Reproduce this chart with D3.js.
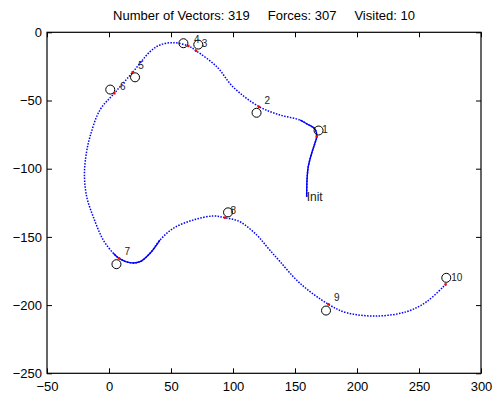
<!DOCTYPE html>
<html>
<head>
<meta charset="utf-8">
<script src="https://cdn.jsdelivr.net/npm/d3@7"></script>
<style>
  body { margin: 0; background: #fff; }
  svg { display: block; font-family: "Liberation Sans", Arial, sans-serif; }
</style>
</head>
<body>
<svg id="chart" width="496" height="397"></svg>
<script>
// title pieces
var titleParts = ['Number of Vectors: 319', 'Forces: 307', 'Visited: 10'];

// traced vehicle path (x, y), starting at Init
var pathX = [159.4, 159.7, 160.7, 163.5, 166.1, 167.5, 166.1, 160.5, 154, 137.9, 121, 100, 86.9, 70.2, 64, 51.9, 41.1, 33.1, 19.1, 4.3, -7.3, -15.3, -18.5, -19.8, -18, -12.7, -4.6, 3.5, 8.1, 16.9, 25, 33.1, 41.1, 51.9, 68, 84.1, 93.5, 105.6, 119.1, 128.2, 138, 154, 176.9, 191.7, 215.9, 240, 256.2, 271.5];
var pathY = [-120.5, -108.3, -98.5, -88.5, -81.2, -76.5, -70.9, -67.6, -64.3, -60.6, -54.5, -40, -25.2, -13.5, -10, -7.6, -9.3, -14.2, -29.3, -44.7, -56.9, -76.5, -90, -104.6, -120.5, -135.2, -152.3, -162, -165.7, -168.9, -168.2, -162, -152.3, -143.7, -137.6, -134.7, -135.9, -138.9, -148.6, -158.1, -168.2, -184, -199.4, -205.6, -208, -204.8, -197.5, -184.8];
// parts of the path where the samples are dense (drawn solid)
var denseRanges = [[0, 8], [27, 32]];

// waypoints (circles)
var wpX = [169, 119, 72, 60, 21, 1, 6, 96, 175, 272];
var wpY = [-72, -59, -9, -8, -33, -42, -170, -132, -204, -180];
// closest path points to each waypoint (red marks)
var hitX = [167.5, 121, 70.2, 64, 19.1, 4.3, 8.1, 93.5, 176.9, 271.5];
var hitY = [-76.5, -54.7, -13.5, -10, -29.3, -44.7, -165.7, -135.9, -199.4, -184.8];
var wpLabels = ['1', '2', '3', '4', '5', '6', '7', '8', '9', '10'];

var xTicks = [-50, 0, 50, 100, 150, 200, 250, 300];
var yTicks = [-250, -200, -150, -100, -50, 0];

var svg = d3.select('#chart');
var L = 47, R = 481, T = 32.3, B = 373.3;

var x = d3.scaleLinear().domain([-50, 300]).range([L, R]);
var y = d3.scaleLinear().domain([-250, 0]).range([B, T]);

var fmt = function(d) { return d < 0 ? '\u2212' + Math.abs(d) : '' + d; };

// axes
svg.append('g').attr('transform', 'translate(0,' + B + ')')
  .call(d3.axisBottom(x).tickValues(xTicks).tickFormat(fmt).tickSizeInner(-5).tickSizeOuter(0).tickPadding(8));
svg.append('g').attr('transform', 'translate(0,' + T + ')')
  .call(d3.axisTop(x).tickValues(xTicks).tickFormat('').tickSizeInner(-5).tickSizeOuter(0));
svg.append('g').attr('transform', 'translate(' + L + ',0)')
  .call(d3.axisLeft(y).tickValues(yTicks).tickFormat(fmt).tickSizeInner(-5).tickSizeOuter(0).tickPadding(5));
svg.append('g').attr('transform', 'translate(' + R + ',0)')
  .call(d3.axisRight(y).tickValues(yTicks).tickFormat('').tickSizeInner(-5).tickSizeOuter(0));

svg.selectAll('.domain').remove();
svg.selectAll('.tick line').attr('stroke', '#000');
svg.selectAll('.tick text').attr('font-size', 13).attr('fill', '#000')
  .attr('font-family', '"Liberation Sans", Arial, sans-serif');

svg.append('rect')
  .attr('x', L).attr('y', T).attr('width', R - L).attr('height', B - T)
  .attr('fill', 'none').attr('stroke', '#000').attr('stroke-width', 1.2);

// title
svg.append('text')
  .attr('x', (L + R) / 2).attr('y', 20)
  .attr('text-anchor', 'middle')
  .attr('font-size', 13)
  .style('white-space', 'pre')
  .text(titleParts.join('     '));

// path
var pts = pathX.map(function(d, i) { return [d, pathY[i]]; });
var line = d3.line()
  .x(function(d) { return x(d[0]); })
  .y(function(d) { return y(d[1]); })
  .curve(d3.curveCatmullRom);

svg.append('path')
  .attr('d', line(pts))
  .attr('fill', 'none')
  .attr('stroke', '#0000ff')
  .attr('stroke-width', 1.5)
  .attr('stroke-dasharray', '1.5,1.4');

denseRanges.forEach(function(r) {
  svg.append('path')
    .attr('d', line(pts.slice(r[0], r[1] + 1)))
    .attr('fill', 'none')
    .attr('stroke', '#0000ff')
    .attr('stroke-width', 1.4);
});

// waypoint circles
svg.append('g').selectAll('circle')
  .data(wpX)
  .enter().append('circle')
  .attr('cx', function(d) { return x(d); })
  .attr('cy', function(d, i) { return y(wpY[i]); })
  .attr('r', 4.5)
  .attr('fill', 'none')
  .attr('stroke', '#000')
  .attr('stroke-width', 1);

// red marks
svg.append('g').selectAll('rect')
  .data(hitX)
  .enter().append('rect')
  .attr('x', function(d) { return x(d) - 1.2; })
  .attr('y', function(d, i) { return y(hitY[i]) - 1.2; })
  .attr('width', 2.4).attr('height', 2.4)
  .attr('fill', '#ff0000');

// labels next to the red marks
svg.append('g').selectAll('text')
  .data(wpLabels)
  .enter().append('text')
  .attr('x', function(d, i) { return x(hitX[i] + 4.5); })
  .attr('y', function(d, i) { return y(hitY[i] + 5); })
  .attr('dy', '0.35em')
  .attr('font-size', 10)
  .attr('fill', '#222')
  .text(function(d) { return d; });

svg.append('text')
  .attr('x', x(pathX[0]))
  .attr('y', y(pathY[0]))
  .attr('dy', '0.35em')
  .attr('font-size', 12)
  .attr('fill', '#222')
  .text('Init');
</script>
</body>
</html>
